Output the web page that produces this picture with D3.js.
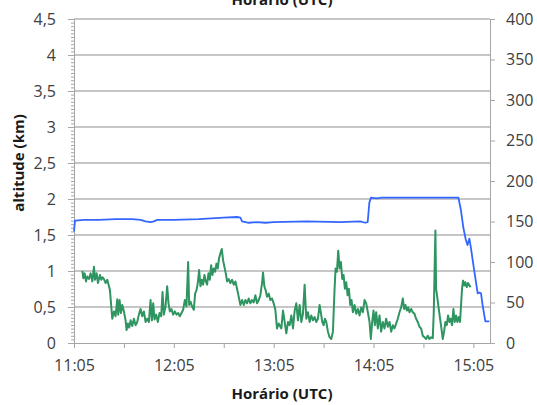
<!DOCTYPE html>
<meta charset="utf-8">
<style>
body { margin: 0; background: #fff; }
text { font-family: "Open Sans", sans-serif; }
.axis text { font-size: 16px; fill: #404040; }
.axis path, .axis line { stroke: #a6a6a6; }
.grid line { stroke: #b3b3b3; stroke-width: 1.3px; }
.title { font-size: 15px; font-weight: bold; fill: #1a1a1a; }
.series { fill: none; stroke-linejoin: round; }
</style>
<svg width="537" height="405"></svg>
<script src="https://cdn.jsdelivr.net/npm/d3@7"></script>
<script>

// minutes after 11:05
var xTickLabels = ["11:05", "12:05", "13:05", "14:05", "15:05"];
var leftTickLabels = ["0", "0,5", "1", "1,5", "2", "2,5", "3", "3,5", "4", "4,5"];
var rightTickValues = [0, 50, 100, 150, 200, 250, 300, 350, 400];

// altitude (km), left axis
var altitude = [
  [0, 1.55], [0.6, 1.70], [6, 1.71], [15, 1.71], [25, 1.72], [35, 1.72], [40, 1.71],
  [43, 1.69], [46, 1.68], [48, 1.69], [50, 1.71], [60, 1.71], [75, 1.72], [90, 1.74],
  [98, 1.75], [100, 1.74], [101, 1.69], [105, 1.67], [110, 1.68], [115, 1.67], [120, 1.68],
  [140, 1.69], [160, 1.68], [172, 1.69], [175, 1.67], [176.5, 1.68], [177.5, 1.95],
  [178.5, 2.02], [182, 2.01], [185, 2.02], [200, 2.02], [215, 2.02], [231, 2.02],
  [232.5, 1.85], [234, 1.6], [235.5, 1.43], [236.5, 1.36], [237.6, 1.45], [238.6, 1.31],
  [240.6, 0.99], [242.6, 0.69], [243.6, 0.70], [244.6, 0.69], [245.6, 0.52], [247.2, 0.30],
  [249.6, 0.30]
];

// second series, right axis
var second = [
  [5, 89], [5.6, 80], [6.4, 86], [7.2, 76], [8, 82], [9, 79], [10, 86], [11, 76], [12, 94],
  [12.6, 78], [13.6, 86], [14.4, 74], [15.6, 84], [16.4, 78], [17.2, 81], [18, 79], [19, 74],
  [20, 78], [21, 70], [21.6, 65], [22.4, 45], [23, 30], [24, 39], [25, 33], [26, 54],
  [26.6, 35], [27.4, 53], [28.2, 37], [29, 47], [30, 39], [31, 28], [31.6, 16], [32.4, 24],
  [33.2, 19], [34, 28], [35, 21], [36, 30], [37, 22], [38, 26], [39, 35], [40, 42], [41, 33],
  [42, 39], [43, 26], [44, 30], [45, 26], [46, 53], [46.8, 28], [47.6, 49], [48.4, 29],
  [49.4, 35], [50.4, 26], [51.4, 37], [52.4, 33], [53.2, 63], [54, 35], [55, 45], [56, 70],
  [56.8, 49], [57.6, 39], [58.6, 42], [59.6, 35], [60.6, 39], [61.6, 35], [62.6, 37],
  [63.6, 33], [64.6, 37], [65.6, 41], [66.6, 53], [67.6, 45], [68.6, 100], [69.2, 47],
  [70, 51], [71, 45], [72, 41], [72.8, 61], [73.6, 65], [74.4, 74], [75.2, 90], [76, 70],
  [76.8, 78], [77.6, 72], [78.4, 84], [79.2, 76], [80, 72], [80.8, 86], [81.6, 78],
  [82.4, 96], [83.2, 84], [84, 92], [84.8, 88], [85.6, 98], [86.4, 92], [87.2, 105],
  [88, 111], [88.8, 116], [89.6, 102], [90.4, 94], [91.2, 86], [92, 76], [93, 79], [94, 74],
  [95, 78], [96, 72], [97, 76], [98, 67], [99, 57], [100, 47], [101, 53], [102, 47],
  [103, 53], [104, 49], [105, 55], [106, 49], [107, 53], [108, 50], [109, 59], [110, 49],
  [111, 53], [112, 59], [113, 74], [113.6, 87], [114.4, 70], [115.2, 65], [116, 57],
  [117, 61], [118, 53], [119, 55], [120, 49], [121, 41], [122, 18], [123, 24],
  [124.6, 18], [125.6, 40], [126.6, 26], [127.6, 12], [128.6, 26], [129.6, 22], [130.6, 34],
  [131.6, 18], [132.6, 40], [133.6, 49], [134.6, 28], [135.6, 47], [136.6, 26], [137.6, 36],
  [138.6, 72], [139.6, 30], [140.6, 38], [141.6, 26], [142.6, 34], [143.6, 28], [144.6, 32],
  [145.6, 26], [146.6, 30], [147.6, 47], [148.6, 34], [149.2, 26], [150, 22], [150.8, 30],
  [151.6, 26], [152.6, 14], [153.6, 7], [154.6, 5], [155.6, 14], [156.6, 67], [157.2, 92],
  [158, 88], [158.8, 114], [159.6, 92], [160.4, 100], [161.2, 79], [162, 84], [162.8, 67],
  [163.6, 75], [164.4, 59], [165.2, 67], [166, 47], [166.8, 53], [167.6, 38], [168.6, 47],
  [169.6, 36], [170.6, 42], [171.6, 34], [172.6, 44], [173.6, 38], [174.6, 53], [175.6, 49],
  [176.6, 38], [177.6, 26], [178.4, 5], [179.2, 26], [180, 40], [180.8, 22], [181.6, 38],
  [182.6, 18], [183.6, 34], [184.6, 14], [185.6, 26], [186.6, 18], [187.6, 30], [188.6, 20],
  [189.6, 26], [190.6, 14], [191.6, 22], [192.6, 18], [193.6, 24], [194.6, 30], [195.6, 38],
  [196.6, 44], [197.6, 55], [198.4, 42], [199.2, 47], [200, 40], [200.8, 44], [201.6, 38],
  [202.6, 42], [203.6, 38], [204.6, 36], [205.6, 30], [206.6, 26], [207.6, 20], [208.6, 18],
  [209.6, 9], [210.6, 7], [211.6, 5], [212.6, 9], [213.6, 5], [214.6, 7], [215.6, 6],
  [216.2, 38], [216.8, 100], [217.2, 139], [217.6, 67], [218.4, 55], [219.2, 42], [220, 30],
  [220.8, 18], [221.6, 5], [222.4, 14], [223.2, 26], [224, 22], [224.8, 34], [225.6, 26],
  [226.4, 30], [227.2, 22], [228, 42], [228.8, 26], [229.6, 34], [230.4, 26], [231.2, 32],
  [232, 26], [232.6, 47], [233.2, 67], [233.8, 77], [234.6, 71], [235.2, 75], [236, 69],
  [236.8, 74], [237.6, 71], [238.4, 69]
];

var svg = d3.select("svg"),
    plotLeft = 74, plotRight = 490, plotTop = 19, plotBottom = 343;

var x = d3.scaleLinear().domain([0, 250]).range([plotLeft, plotRight]);
var yL = d3.scaleLinear().domain([0, 4.5]).range([plotBottom, plotTop]);
var yR = d3.scaleLinear().domain([0, 400]).range([plotBottom, plotTop]);

// gridlines
svg.append("g").attr("class", "grid")
  .selectAll("line")
  .data(d3.range(1, 10).map(function(i) { return i * 0.5; }))
  .join("line")
    .attr("x1", plotLeft).attr("x2", plotRight)
    .attr("y1", function(d) { return yL(d); })
    .attr("y2", function(d) { return yL(d); });

// left minor ticks
svg.append("g").attr("class", "axis")
    .attr("transform", "translate(" + plotLeft + ",0)")
    .call(d3.axisLeft(yL).tickValues(d3.range(0, 91).map(function(i) { return i * 0.05; }))
      .tickSize(3).tickFormat(""))
    .call(function(g) { g.select(".domain").remove(); });

svg.append("g").attr("class", "axis")
    .attr("transform", "translate(" + plotLeft + ",0)")
    .call(d3.axisLeft(yL).tickValues(d3.range(0, 10).map(function(i) { return i * 0.5; }))
      .tickSize(6).tickSizeOuter(0).tickPadding(12)
      .tickFormat(function(d, i) { return leftTickLabels[i]; }))
    .selectAll("text").style("font-family", "Open Sans");

svg.append("g").attr("class", "axis")
    .attr("transform", "translate(" + plotRight + ",0)")
    .call(d3.axisRight(yR).tickValues(rightTickValues).tickSize(5).tickSizeOuter(0).tickPadding(11))
    .selectAll("text").style("font-family", "Open Sans");

svg.append("g").attr("class", "axis")
    .attr("transform", "translate(0," + plotBottom + ")")
    .call(d3.axisBottom(x).tickValues(d3.range(0, 9).map(function(i) { return i * 30; }))
      .tickSize(5).tickSizeOuter(0).tickPadding(12)
      .tickFormat(function(d) { return d % 60 === 0 ? xTickLabels[d / 60] : ""; }))
    .selectAll("text").style("font-family", "Open Sans");

var lineL = d3.line()
    .x(function(d) { return x(d[0]); })
    .y(function(d) { return yL(d[1]); });

var lineR = d3.line()
    .x(function(d) { return x(d[0]); })
    .y(function(d) { return yR(d[1]); });

svg.append("path").datum(second)
    .attr("class", "series")
    .attr("stroke", "#2e9460")
    .attr("stroke-width", 2)
    .attr("d", lineR);

svg.append("path").datum(altitude)
    .attr("class", "series")
    .attr("stroke", "#3366ff")
    .attr("stroke-width", 1.8)
    .attr("d", lineL);

svg.append("text").attr("class", "title")
    .attr("x", 282).attr("y", 5)
    .attr("text-anchor", "middle")
    .text("Horário (UTC)");

svg.append("text").attr("class", "title")
    .attr("x", 282).attr("y", 399)
    .attr("text-anchor", "middle")
    .text("Horário (UTC)");

svg.append("text").attr("class", "title")
    .attr("transform", "translate(24,163) rotate(-90)")
    .attr("text-anchor", "middle")
    .text("altitude (km)");

</script>
